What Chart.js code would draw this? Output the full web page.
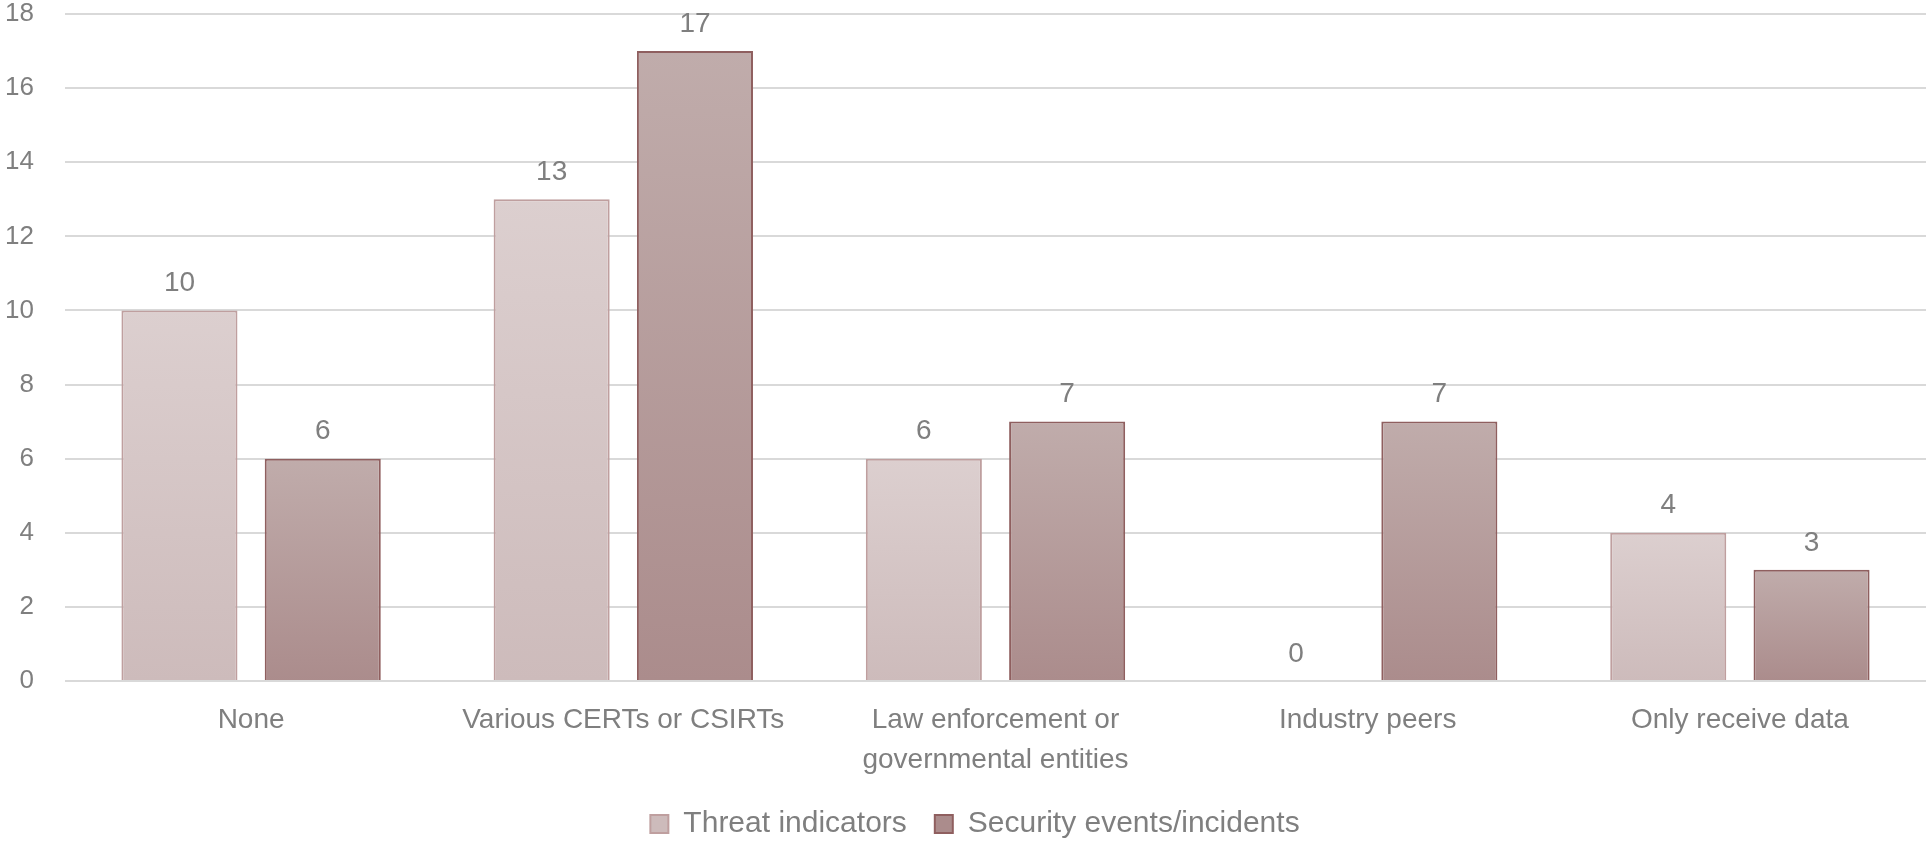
<!DOCTYPE html>
<html>
<head>
<meta charset="utf-8">
<script src="https://cdn.jsdelivr.net/npm/chart.js@4"></script>
<style>
  html, body { margin: 0; padding: 0; background: #ffffff; }
  #wrap { width: 1926px; height: 841px; position: relative; }
</style>
</head>
<body>
<div id="wrap"><canvas id="chart"></canvas></div>
<script>
// Who organisations share data with, split by kind of data shared
const categories = [
  'None',
  'Various CERTs or CSIRTs',
  ['Law enforcement or', 'governmental entities'],
  'Industry peers',
  'Only receive data'
];
const threatIndicators = [10, 13, 6, 0, 4];
const securityEvents = [6, 17, 7, 7, 3];
const yTicks = [0, 2, 4, 6, 8, 10, 12, 14, 16, 18];
const seriesNames = ['Threat indicators', 'Security events/incidents'];

const FONT = "'Liberation Sans', Arial, sans-serif";
const TEXT_GREY = '#7f7f7f';

// Vertical gradient per bar, from its top down to the baseline
function barGradient(top, bottom, legendColor) {
  return function (ctx) {
    if (ctx.type !== 'data') return legendColor;
    const chart = ctx.chart;
    const ys = chart.scales && chart.scales.y;
    if (!ys || !chart.chartArea) return legendColor;
    const v = ctx.dataset.data[ctx.dataIndex];
    const y0 = ys.getPixelForValue(v);
    const y1 = ys.getPixelForValue(0);
    if (!isFinite(y0) || !isFinite(y1) || y0 === y1) return legendColor;
    const g = chart.ctx.createLinearGradient(0, y0, 0, y1);
    g.addColorStop(0, top);
    g.addColorStop(1, bottom);
    return g;
  };
}

// Value labels above each bar
const valueLabels = {
  id: 'valueLabels',
  afterDatasetsDraw(chart) {
    const ctx = chart.ctx;
    ctx.save();
    ctx.font = '28px ' + FONT;
    ctx.fillStyle = TEXT_GREY;
    ctx.textAlign = 'center';
    ctx.textBaseline = 'middle';
    chart.data.datasets.forEach((ds, di) => {
      const meta = chart.getDatasetMeta(di);
      meta.data.forEach((el, i) => {
        ctx.fillText(String(ds.data[i]), el.x, el.y - 27);
      });
    });
    ctx.restore();
  }
};

// Nudge the legend row so it sits centred under the plot
const legendShift = {
  id: 'legendShift',
  afterLayout(chart) {
    if (chart.legend) {
      chart.legend.left += 12;
      chart.legend.right += 12;
    }
  }
};

new Chart(document.getElementById('chart'), {
  type: 'bar',
  data: {
    labels: categories,
    datasets: [
      {
        label: seriesNames[0],
        data: threatIndicators,
        backgroundColor: barGradient('#dccfcf', '#cdbbbb', '#d6c7c7'),
        borderColor: '#bf9f9f',
        borderWidth: 2,
        categoryPercentage: 0.77,
        barPercentage: 0.81
      },
      {
        label: seriesNames[1],
        data: securityEvents,
        backgroundColor: barGradient('#c0acab', '#ab8c8c', '#b59b9b'),
        borderColor: '#8f5f5f',
        borderWidth: 2,
        categoryPercentage: 0.77,
        barPercentage: 0.81
      }
    ]
  },
  options: {
    responsive: true,
    maintainAspectRatio: false,
    animation: false,
    layout: { padding: { top: 14, right: 0, left: 0, bottom: 0 } },
    plugins: {
      tooltip: { enabled: false },
      legend: {
        position: 'bottom',
        maxHeight: 60,
        labels: {
          font: { family: FONT, size: 30 },
          color: TEXT_GREY,
          boxWidth: 18,
          boxHeight: 18,
          padding: 28
        }
      }
    },
    scales: {
      x: {
        grid: { display: false, drawTicks: false },
        border: { display: false },
        ticks: {
          font: { family: FONT, size: 28, lineHeight: 1.4 },
          color: TEXT_GREY,
          padding: 20,
          maxRotation: 0,
          autoSkip: false
        },
        afterFit(scale) { scale.height = 100; }
      },
      y: {
        min: 0,
        max: 18,
        afterBuildTicks(scale) { scale.ticks = yTicks.map(v => ({ value: v })); },
        grid: { color: '#d9d9d9', lineWidth: 2, drawTicks: false },
        border: { display: false },
        ticks: {
          font: { family: FONT, size: 26 },
          color: TEXT_GREY,
          padding: 31
        },
        afterFit(scale) {
          scale.width = 65;
          scale.paddingTop = 0;
          scale.paddingBottom = 0;
        }
      }
    }
  },
  plugins: [valueLabels, legendShift]
});
</script>
</body>
</html>
